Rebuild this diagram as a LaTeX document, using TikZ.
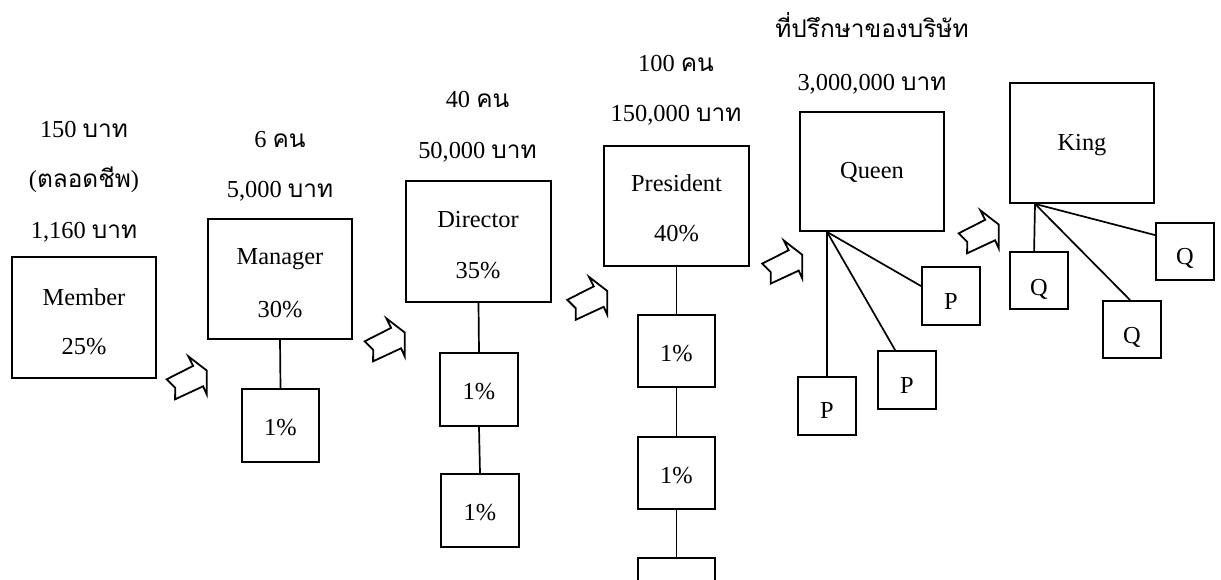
\documentclass[tikz,border=0pt]{standalone}
\usepackage{fontspec}
\setmainfont{Liberation Serif}
\newfontfamily\thai[Script=Thai]{Loma}
\begin{document}
\begin{tikzpicture}[x=1pt,y=-1pt,
  box/.style={draw, line width=1.8pt, rectangle, inner sep=0pt, fill=white},
  bigbox/.style={box, minimum width=144pt, minimum height=120pt},
  pctbox/.style={box, minimum width=77pt, minimum height=72pt},
  letterbox/.style={box, minimum width=58pt, minimum height=57pt},
  txt/.style={inner sep=0pt, anchor=base, font=\fontsize{24.4}{29}\selectfont},
  link/.style={line width=1.7pt},
  notched/.pic={\draw[line width=1.8pt, line join=miter, fill=white]
     (-4.2,-10) -- (4.3,-1.5) -- (4.2,10) -- (32.2,-3) -- (35.8,5)
     -- (35.8,-18.8) -- (17.4,-33) -- (22.2,-23.4) -- cycle;}
]
\useasboundingbox (0,0) rectangle (1221,580);
\clip (0,0) rectangle (1221,580);
\fill[white] (0,0) rectangle (1221,580);

% ---------- boxes ----------
\node[bigbox, minimum height=121pt] (member) at (84,317.5) {};
\node[bigbox] (manager) at (280,279) {};
\node[pctbox, minimum height=73pt] (m1) at (280.5,425.5) {};
\node[bigbox, minimum width=145pt, minimum height=121pt] (director) at (478.5,241.5) {};
\node[pctbox, minimum width=78pt, minimum height=73pt] (d1) at (479,389.5) {};
\node[pctbox, minimum width=78pt, minimum height=73pt] (d2) at (480,510.5) {};
\node[bigbox, minimum width=145pt] (president) at (676.5,206) {};
\node[pctbox] (p1) at (676.5,351) {};
\node[pctbox] (p2) at (676.5,473) {};
\node[pctbox] (p3) at (676.5,594) {};
\node[bigbox, minimum height=119pt] (queen) at (872,171.5) {};
\node[letterbox, minimum height=58pt] (pa) at (827,406) {};
\node[letterbox, minimum height=58pt] (pb) at (907,380) {};
\node[letterbox, minimum height=58pt] (pc) at (951,296) {};
\node[bigbox] (king) at (1082,143) {};
\node[letterbox] (qa) at (1039,280.5) {};
\node[letterbox] (qb) at (1132,329.5) {};
\node[letterbox] (qc) at (1185,251.5) {};

% ---------- connectors ----------
\draw[link] (manager.south) -- (m1.north);
\draw[link] (director.south) -- (d1.north);
\draw[link] (d1.south) -- (d2.north);
\draw[link] (president.south) -- (p1.north);
\draw[link] (p1.south) -- (p2.north);
\draw[link] (p2.south) -- (p3.north);

\coordinate (qroot) at ([xshift=-45pt]queen.south);
\coordinate (paT) at (pa.north);
\coordinate (pbT) at ([xshift=18pt]pb.north west);
\coordinate (pcL) at ([yshift=-20pt]pc.north west);
\draw[link] (qroot) -- (paT);
\draw[link] (qroot) -- (pbT);
\draw[link] (qroot) -- (pcL);

\coordinate (kroot) at ([xshift=-47pt]king.south);
\coordinate (qaT) at ([xshift=25pt]qa.north west);
\coordinate (qbT) at ([xshift=28pt]qb.north west);
\coordinate (qcL) at ([yshift=-13pt]qc.north west);
\draw[link] (kroot) -- (qaT);
\draw[link] (kroot) -- (qbT);
\draw[link] (kroot) -- (qcL);

% ---------- block arrows ----------
\pic (a1) at (170.9,389.3) {notched};
\pic (a2) at (368.9,351.3) {notched};
\pic (a3) at (571.5,309.8) {notched};
\pic (a4) at (766.5,273.6) {notched};
\pic (a5) at (962.9,243.3) {notched};

% ---------- texts ----------
\node[txt] (t1) at (84,138) {150 {\thai บาท}};
\node[txt] (t2) at (84,188) {(\thai ตลอดชีพ\rmfamily)};
\node[txt] (t3) at (84,239) {1,160 {\thai บาท}};
\node[txt] (l1) at (84,305) {Member};
\node[txt] (l2) at (84,354) {25\%};

\node[txt] (t4) at (280,148) {6 {\thai คน}};
\node[txt] (t5) at (280,198) {5,000 {\thai บาท}};
\node[txt] (l3) at (280,265) {Manager};
\node[txt] (l4) at (280,317) {30\%};
\node[txt] (l5) at (280.5,435) {1\%};

\node[txt] (t6) at (477.5,108) {40 {\thai คน}};
\node[txt] (t7) at (477.5,159) {50,000 {\thai บาท}};
\node[txt] (l6) at (478,228) {Director};
\node[txt] (l7) at (478,278) {35\%};
\node[txt] (l8) at (479,399) {1\%};
\node[txt] (l9) at (480,520) {1\%};

\node[txt] (t8) at (676,72) {100 {\thai คน}};
\node[txt] (t9) at (676,122) {150,000 {\thai บาท}};
\node[txt] (l10) at (676.5,192) {President};
\node[txt] (l11) at (676.5,242) {40\%};
\node[txt] (l12) at (676.5,361) {1\%};
\node[txt] (l13) at (676.5,483) {1\%};

\node[txt] (t10) at (872,38) {\thai ที่ปรึกษาของบริษัท};
\node[txt] (t11) at (872,91) {3,000,000 {\thai บาท}};
\node[txt] (l14) at (872,179) {Queen};
\node[txt] (l15) at (1082,151) {King};

\node[txt] (l16) at (827,418) {P};
\node[txt] (l17) at (907,393) {P};
\node[txt] (l18) at (951,309) {P};
\node[txt] (l19) at (1039,295) {Q};
\node[txt] (l20) at (1132,343) {Q};
\node[txt] (l21) at (1185,265) {Q};
\end{tikzpicture}
\end{document}
